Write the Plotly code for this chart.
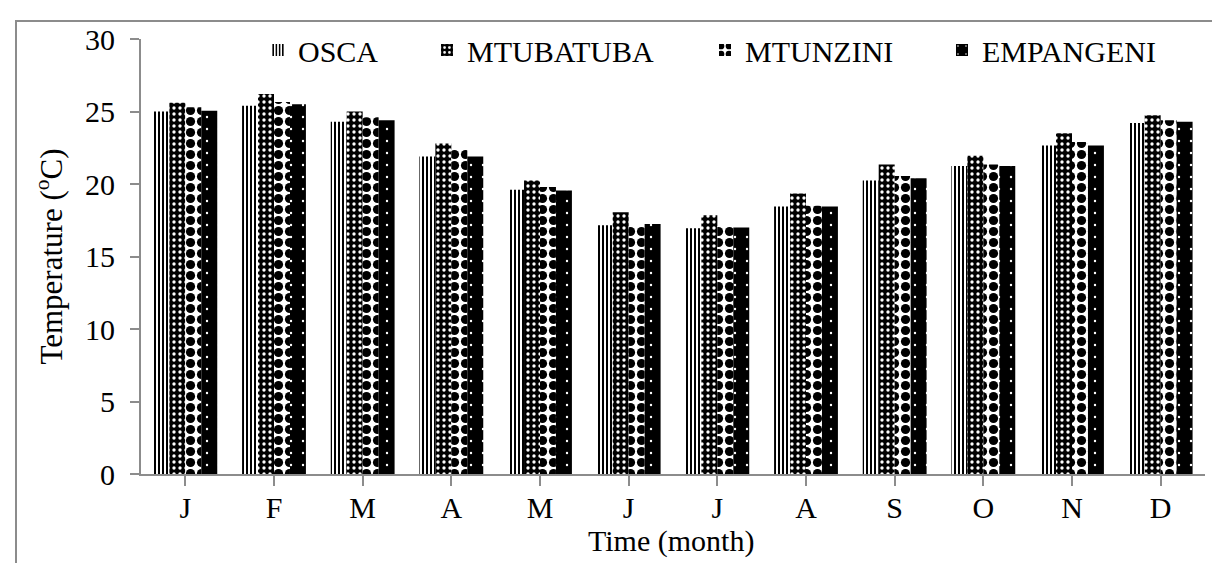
import plotly.graph_objects as go

months = ["J", "F", "M", "A", "M", "J", "J", "A", "S", "O", "N", "D"]
month_ids = list(range(12))
osca = [25.0, 25.4, 24.3, 21.9, 19.6, 17.15, 16.95, 18.45, 20.25, 21.25, 22.65, 24.2]
mtubatuba = [25.6, 26.2, 25.0, 22.8, 20.25, 18.05, 17.85, 19.35, 21.35, 21.95, 23.5, 24.75]
mtunzini = [25.3, 25.65, 24.6, 22.35, 19.8, 17.1, 17.1, 18.5, 20.55, 21.35, 22.9, 24.4]
empangeni = [25.05, 25.5, 24.4, 21.9, 19.55, 17.25, 17.0, 18.45, 20.4, 21.25, 22.65, 24.3]
y_ticks = [0, 5, 10, 15, 20, 25, 30]

series = [
    ("OSCA", osca, dict(shape="|", fgcolor="black", bgcolor="white", size=4, solidity=0.5, fgopacity=1)),
    ("MTUBATUBA", mtubatuba, dict(shape=".", fgcolor="white", bgcolor="black", size=6, solidity=0.25, fgopacity=1)),
    ("MTUNZINI", mtunzini, dict(shape=".", fgcolor="black", bgcolor="white", size=11, solidity=0.55, fgopacity=1)),
    ("EMPANGENI", empangeni, dict(shape=".", fgcolor="white", bgcolor="black", size=12, solidity=0.03, fgopacity=1)),
]
legend_ids = ["legend", "legend2", "legend3", "legend4"]
legend_px = [250, 419, 697, 934]

font = "Liberation Serif"
fig = go.Figure()
for (name, vals, pat), lid in zip(series, legend_ids):
    fig.add_trace(go.Bar(
        x=month_ids, y=vals, name=name, legend=lid,
        marker=dict(color="white", pattern=pat, line=dict(width=0)),
    ))

L, R, T, B = 133, 23, 31, 97
pw = 1220 - L - R
ph = 563 - T - B

layout_legends = {}
for lid, px in zip(legend_ids, legend_px):
    layout_legends[lid] = dict(
        orientation="h", x=(px - L) / pw, xanchor="left",
        y=(T + ph - 42) / ph, yanchor="middle",
        font=dict(family=font, size=30, color="black"), itemwidth=30,
        bgcolor="rgba(0,0,0,0)",
    )

fig.update_layout(
    width=1220, height=563,
    margin=dict(l=L, r=R, t=T, b=B, autoexpand=False),
    paper_bgcolor="white", plot_bgcolor="white",
    barmode="group", bargap=0.28, bargroupgap=0,
    font=dict(family=font, size=30, color="black"),
    showlegend=True,
    xaxis=dict(
        tickmode="array", tickvals=month_ids, ticktext=months,
        range=[-0.5, 11.5], showline=True, linecolor="#8c8c8c", linewidth=2,
        ticks="outside", tickson="boundaries", ticklen=10, tickcolor="#8c8c8c", tickwidth=2,
        showgrid=False, zeroline=False, ticklabelstandoff=-4, automargin=False,
        tickfont=dict(family=font, size=30, color="black"),
    ),
    yaxis=dict(
        range=[0, 30], tickvals=y_ticks, showline=True, linecolor="#8c8c8c", linewidth=2,
        ticks="outside", ticklen=9, tickcolor="#8c8c8c", tickwidth=2,
        showgrid=False, zeroline=False, ticklabelstandoff=9, automargin=False,
        tickfont=dict(family=font, size=30, color="black"),
        title=dict(text="Temperature (<sup>o</sup>C)", standoff=13, font=dict(family=font, size=31, color="black")),
    ),
    **layout_legends,
)

# x-axis title placed as an annotation so it sits close to the bottom edge like the reference
fig.add_annotation(
    text="Time (month)", xref="paper", yref="paper",
    x=(663 - L) / pw, y=-(533 - (T + ph)) / ph, xanchor="center", yanchor="middle",
    showarrow=False, font=dict(family=font, size=30, color="black"),
)

# outer chart frame (top and left edges visible)
fig.add_shape(type="path", xref="paper", yref="paper",
              path=f"M {(8 - L) / pw},-0.3 L {(8 - L) / pw},{(T + ph - 13) / ph} L 1.05,{(T + ph - 13) / ph}",
              line=dict(color="#8c8c8c", width=2))

fig.write_html("out.html")
